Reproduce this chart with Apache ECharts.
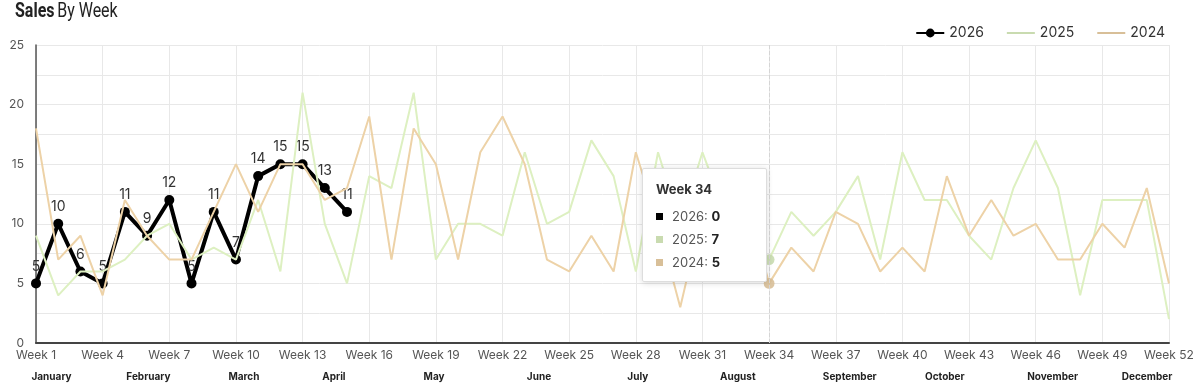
<!DOCTYPE html>
<html>
<head>
<meta charset="utf-8">
<script src="https://cdn.jsdelivr.net/npm/echarts@6/dist/echarts.min.js"></script>
<style>
html,body{margin:0;padding:0;background:#fff;}
#c{width:1200px;height:385px;}
</style>
</head>
<body>
<div id="c"></div>
<script>
// ---- data ----
const weeks = Array.from({length: 52}, (_, i) => 'Week ' + (i + 1));
const seriesNames = ['2026', '2025', '2024'];
const sales2026 = [5, 10, 6, 5, 11, 9, 12, 5, 11, 7, 14, 15, 15, 13, 11];
const sales2025 = [9, 4, 6, 6, 7, 9, 10, 7, 8, 7, 12, 6, 21, 10, 5, 14, 13, 21, 7, 10, 10, 9, 16, 10, 11, 17,
                   14, 6, 16, 10, 16, 11, 9, 7, 11, 9, 11, 14, 7, 16, 12, 12, 9, 7, 13, 17, 13, 4, 12, 12, 12, 2];
const sales2024 = [18, 7, 9, 4, 12, 9, 7, 7, 11, 15, 11, 15, 15, 12, 13, 19, 7, 18, 15, 7, 16, 19, 15, 7, 6, 9,
                   6, 16, 10, 3, 11, 6, 12, 5, 8, 6, 11, 10, 6, 8, 6, 14, 9, 12, 9, 10, 7, 7, 10, 8, 13, 5];
const monthNames = ['January', 'February', 'March', 'April', 'May', 'June', 'July', 'August',
                    'September', 'October', 'November', 'December'];
const monthWeekCenters = [1.7, 6.06, 10.36, 14.41, 18.92, 23.64, 28.09, 32.59, 37.63, 41.91, 46.76, 51.01];
const yTicks = [0, 5, 10, 15, 20, 25];
const tooltipWeekIndex = 33;

const seriesData = [sales2026, sales2025, sales2024];
const colors = ['#000000', '#c9dbb0', '#d8bf98'];
const FONT = 'Inter, "Open Sans", sans-serif';

const chart = echarts.init(document.getElementById('c'), null, {renderer: 'canvas'});

const option = {
  animation: false,
  color: colors,
  graphic: [{
    type: 'text',
    left: 15, top: 2,
    scaleX: 0.8,
    style: {
      text: '{b|Sales} {n|By Week}',
      rich: {
        b: {fontFamily: 'Roboto, sans-serif', fontWeight: 'bold', fontSize: 20, fill: '#222'},
        n: {fontFamily: 'Roboto, sans-serif', fontWeight: 'normal', fontSize: 20, fill: '#222'}
      }
    }
  }],
  legend: {
    right: 30, top: 21,
    itemWidth: 28, itemHeight: 11, itemGap: 22,
    textStyle: {fontFamily: FONT, fontSize: 14, color: '#333'},
    data: [
      {name: '2026'},
      {name: '2025', itemStyle: {opacity: 0}},
      {name: '2024', itemStyle: {opacity: 0}}
    ]
  },
  grid: {left: 36, right: 31, top: 45, bottom: 42, containLabel: false},
  tooltip: {
    trigger: 'axis',
    transitionDuration: 0,
    backgroundColor: '#fff',
    borderColor: '#ddd',
    borderWidth: 1,
    padding: [10, 13, 7, 13],
    extraCssText: 'box-shadow:0 1px 6px rgba(0,0,0,0.15);border-radius:2px;width:97px;',
    axisPointer: {type: 'line', lineStyle: {color: '#d5d5d5', width: 1}},
    position: function (point, params, dom, rect, size) {
      return [point[0] - size.contentSize[0] - 2, point[1] - 92];
    },
    formatter: function (params) {
      const idx = params[0].dataIndex;
      const ff = FONT.replace(/"/g, "'");
      let html = '<div style="font-family:' + ff + ';font-weight:700;font-size:13px;color:#333;line-height:20px;margin-bottom:6px">' + weeks[idx] + '</div>';
      seriesNames.forEach(function (n, i) {
        const v = seriesData[i][idx];
        html += '<div style="font-family:' + ff + ';font-size:13px;color:#555;line-height:23px">' +
          '<span style="display:inline-block;width:7px;height:7px;background:' + colors[i] + ';margin-right:9px;vertical-align:middle;position:relative;top:-1px"></span>' +
          n + ': <b style="color:#222">' + (v == null ? 0 : v) + '</b></div>';
      });
      return html;
    }
  },
  xAxis: [
    {
      type: 'category',
      data: weeks,
      boundaryGap: false,
      axisLine: {show: true, lineStyle: {color: '#444', width: 2}},
      axisTick: {show: false},
      axisLabel: {interval: 2, margin: 6, fontFamily: FONT, fontSize: 12, color: '#555'},
      splitLine: {show: true, interval: 2, lineStyle: {color: '#e8e8e8', width: 1}}
    },
    {
      type: 'value',
      position: 'bottom',
      min: 1, max: 52,
      axisLine: {show: false},
      axisTick: {show: false},
      splitLine: {show: false},
      axisLabel: {
        customValues: monthWeekCenters,
        margin: 29,
        fontFamily: FONT, fontSize: 10, fontWeight: 'bold', color: '#222',
        formatter: function (v) {
          const i = monthWeekCenters.indexOf(v);
          return i >= 0 ? monthNames[i] : '';
        }
      }
    }
  ],
  yAxis: {
    type: 'value',
    min: 0, max: 25, interval: 2.5,
    axisLine: {show: true, lineStyle: {color: '#555', width: 1.5}},
    axisTick: {show: false},
    splitLine: {show: true, lineStyle: {color: '#e8e8e8', width: 1}},
    axisLabel: {
      margin: 12, fontFamily: FONT, fontSize: 12, color: '#555',
      formatter: function (v) { return yTicks.indexOf(v) >= 0 ? String(v) : ''; }
    }
  },
  series: [
    {
      name: '2026', type: 'line', data: sales2026,
      symbol: 'circle', symbolSize: 10, showSymbol: true,
      lineStyle: {color: '#000', width: 4},
      itemStyle: {color: '#000'},
      label: {show: true, position: 'top', distance: 5, fontFamily: FONT, fontSize: 14, color: '#333'},
      emphasis: {disabled: true},
      z: 2
    },
    {
      name: '2025', type: 'line', data: sales2025,
      symbol: 'circle', symbolSize: 9, showSymbol: false,
      lineStyle: {color: colors[1], width: 2},
      itemStyle: {color: colors[1], opacity: 0.9},
      emphasis: {scale: 1.2},
      z: 3
    },
    {
      name: '2024', type: 'line', data: sales2024,
      symbol: 'circle', symbolSize: 9, showSymbol: false,
      lineStyle: {color: colors[2], width: 2},
      itemStyle: {color: colors[2], opacity: 0.9},
      emphasis: {scale: 1.2},
      z: 3
    }
  ]
};
chart.setOption(option);
chart.dispatchAction({type: 'showTip', seriesIndex: 1, dataIndex: tooltipWeekIndex});
</script>
</body>
</html>
